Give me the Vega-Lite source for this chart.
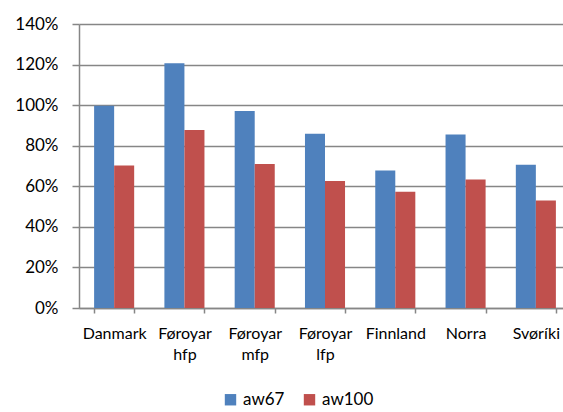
{
  "$schema": "https://vega.github.io/schema/vega-lite/v6.json",
  "width": 492,
  "height": 284,
  "autosize": "none",
  "padding": {"left": 79, "top": 24, "right": 0, "bottom": 104},
  "background": "white",
  "config": {
    "view": {"stroke": null},
    "font": "Lato"
  },
  "data": {
    "values": [
      {"land": "Danmark", "serie": "aw67", "v": 0.997},
      {"land": "Danmark", "serie": "aw100", "v": 0.702},
      {"land": "Føroyar hfp", "serie": "aw67", "v": 1.207},
      {"land": "Føroyar hfp", "serie": "aw100", "v": 0.878},
      {"land": "Føroyar mfp", "serie": "aw67", "v": 0.971},
      {"land": "Føroyar mfp", "serie": "aw100", "v": 0.71},
      {"land": "Føroyar lfp", "serie": "aw67", "v": 0.859},
      {"land": "Føroyar lfp", "serie": "aw100", "v": 0.626},
      {"land": "Finnland", "serie": "aw67", "v": 0.678},
      {"land": "Finnland", "serie": "aw100", "v": 0.573},
      {"land": "Norra", "serie": "aw67", "v": 0.855},
      {"land": "Norra", "serie": "aw100", "v": 0.634},
      {"land": "Svøríki", "serie": "aw67", "v": 0.706},
      {"land": "Svøríki", "serie": "aw100", "v": 0.53}
    ]
  },
  "mark": {"type": "bar"},
  "encoding": {
    "x": {
      "field": "land",
      "type": "nominal",
      "sort": null,
      "title": null,
      "scale": {"paddingInner": 0.43, "paddingOuter": 0.215},
      "axis": {
        "labelAngle": 0,
        "labelExpr": "split(datum.label, ' ')",
        "labelFont": "Lato",
        "labelFontSize": 16,
        "labelColor": "#000000",
        "labelLineHeight": 21,
        "labelPadding": 12,
        "labelBaseline": "top",
        "tickBand": "extent",
        "tickSize": 5,
        "tickColor": "#868686",
        "tickWidth": 1.5,
        "domainColor": "#868686",
        "domainWidth": 1.5,
        "grid": false
      }
    },
    "xOffset": {"field": "serie", "type": "nominal", "sort": ["aw67", "aw100"], "scale": {"paddingInner": 0, "paddingOuter": 0}},
    "y": {
      "field": "v",
      "type": "quantitative",
      "title": null,
      "scale": {"domain": [0, 1.4], "nice": false},
      "axis": {
        "values": [0, 0.2, 0.4, 0.6, 0.8, 1.0, 1.2, 1.4],
        "format": ".0%",
        "labelFont": "Lato",
        "labelFontSize": 17,
        "labelColor": "#000000",
        "labelPadding": 14,
        "tickSize": 7,
        "tickColor": "#868686",
        "tickWidth": 1.5,
        "domainColor": "#868686",
        "domainWidth": 1.5,
        "grid": true,
        "gridColor": "#868686",
        "gridWidth": 1.5
      }
    },
    "color": {
      "field": "serie",
      "type": "nominal",
      "sort": ["aw67", "aw100"],
      "scale": {"domain": ["aw67", "aw100"], "range": ["#4F81BD", "#C0504D"]},
      "legend": {
        "title": null,
        "orient": "none",
        "direction": "horizontal",
        "legendX": 143,
        "legendY": 367,
        "symbolType": "square",
        "symbolSize": 130,
        "symbolStrokeWidth": 0,
        "labelFont": "Lato",
        "labelFontSize": 17,
        "labelColor": "#000000",
        "columnPadding": 16,
        "labelOffset": 4
      }
    }
  }
}
